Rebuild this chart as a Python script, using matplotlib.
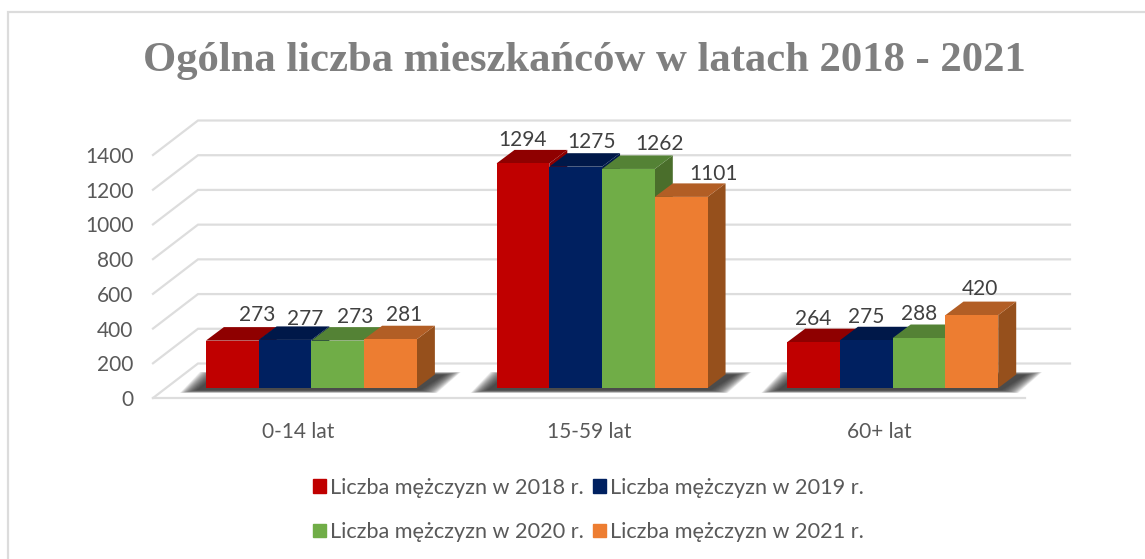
import numpy as np
import matplotlib
matplotlib.use("Agg")
import matplotlib.pyplot as plt
from matplotlib.patches import Patch, Rectangle

W, H = 1145, 559

categories = ["0-14 lat", "15-59 lat", "60+ lat"]
men_2018 = [273, 1294, 264]
men_2019 = [277, 1275, 275]
men_2020 = [273, 1262, 288]
men_2021 = [281, 1101, 420]
series = [men_2018, men_2019, men_2020, men_2021]
series_names = ["Liczba mężczyzn w 2018 r.", "Liczba mężczyzn w 2019 r.",
                "Liczba mężczyzn w 2020 r.", "Liczba mężczyzn w 2021 r."]
y_ticks = [0, 200, 400, 600, 800, 1000, 1200, 1400]

front = ["#C00000", "#002060", "#70AD47", "#ED7D31"]
top = ["#8F0000", "#001849", "#548235", "#B25E25"]
side = ["#8F0000", "#001849", "#4A6E2B", "#96501C"]
grid_col = "#DDDDDD"

# label shift from bar top centre, in pixels
nudge = [[(25, 26), (0, 23), (0, 23)],
         [(20, 21), (16, 25), (0, 23)],
         [(17, 24), (31, 25), (0, 24)],
         [(14, 24), (32, 23), (8, 26)]]

fig = plt.figure(figsize=(W / 100, H / 100), dpi=100, facecolor="white")
plt.rcParams["font.family"] = "Lato"

# outer frame, runs off the right and bottom of the image
fig.add_artist(Rectangle((8 / W, -0.02), 1.1, 1 - 12 / H + 0.02, transform=fig.transFigure,
                         fc="white", ec="#DCDCDC", lw=1.6, zorder=-1))

x0, x1, y0, y1 = 153, 1025, 398, 155
ax = fig.add_axes([x0 / W, 1 - y0 / H, (x1 - x0) / W, (y0 - y1) / H])
ax.set_xlim(-0.5, 2.5)
ax.set_ylim(0, 1400)
ax.patch.set_alpha(0)
for s in ax.spines.values():
    s.set_visible(False)

# depth of the floor expressed in data units
px_x = 3 / (x1 - x0)
px_y = 1400 / (y0 - y1)
dx = 45 * px_x
dy = 34.5 * px_y

# walls and grid
for t in y_ticks:
    ax.plot([-0.5, -0.5 + dx, 2.5 + dx], [t, t + dy, t + dy], color=grid_col, lw=1.6,
            clip_on=False, zorder=1, solid_joinstyle="miter")
ax.plot([-0.5, 2.5], [0, 0], color=grid_col, lw=1.6, clip_on=False, zorder=1)

bw = 52.75 * px_x
bar_d0 = 0.29
bar_dd = 0.40
bx = bar_dd * dx
by = 13.5 * px_y

# soft shadow on the floor, stacked see-through layers
for g in range(3):
    c = g + bar_d0 * dx
    left = c - 2 * bw
    right = c + 2 * bw
    b = bar_d0 * dy
    n = 30
    for k in range(n):
        grow = (n - k) / n
        xg = 18 * grow * px_x
        yg = 3 * grow * px_y
        ax.fill([left - 8 * px_x - xg, right + 2 * px_x + xg, right + 26 * px_x + xg, left + 12 * px_x - xg],
                [b - 2 * px_y - yg, b - 2 * px_y - yg, b + 13 * px_y + yg, b + 13 * px_y + yg],
                color="#303030", alpha=0.06, lw=0, clip_on=False, zorder=2)

# bars, left to right so that each front covers the previous side
z = 3
for i, values in enumerate(series):
    for g, v in enumerate(values):
        xl = g + bar_d0 * dx - 2 * bw + i * bw
        xr = xl + bw
        b = bar_d0 * dy
        ax.fill([xr, xr + bx, xr + bx, xr], [b, b + by, b + v + by, b + v],
                color=side[i], lw=0, clip_on=False, zorder=z)
        ax.fill([xl, xl + bx, xr + bx, xr], [b + v, b + v + by, b + v + by, b + v],
                color=top[i], lw=0, clip_on=False, zorder=z)
        ax.bar(xl, v, bw, bottom=b, align="edge", color=front[i], lw=0, clip_on=False, zorder=z)
        z += 1

for i, values in enumerate(series):
    for g, v in enumerate(values):
        xc = g + bar_d0 * dx - 2 * bw + (i + 0.5) * bw
        ax.annotate(str(v), (xc, bar_d0 * dy + v), xytext=nudge[i][g], textcoords="offset pixels",
                    ha="center", va="center", fontsize=15, color="#404040", zorder=50,
                    annotation_clip=False)

ax.set_xticks(range(3), categories)
ax.set_yticks(y_ticks)
ax.tick_params(length=0, labelsize=15, labelcolor="#595959")
ax.tick_params(axis="x", pad=17)
ax.tick_params(axis="y", pad=14)

fig.text(584 / W, 1 - 61 / H, "Ogólna liczba mieszkańców w latach 2018 - 2021", ha="center", va="center",
         family="Liberation Serif", weight="bold", fontsize=30.7, color="#7F7F7F")

handles = [Patch(color=c) for c in front]
order = [0, 2, 1, 3]
fig.legend([handles[i] for i in order], [series_names[i] for i in order], ncols=2,
           loc="center", bbox_to_anchor=(588.5 / W, 1 - 510 / H), frameon=False, fontsize=15.55,
           labelcolor="#595959", handlelength=0.6, handleheight=0.6, handletextpad=0.19,
           columnspacing=0.42, labelspacing=1.12)

fig.savefig("out.png", dpi=100)
